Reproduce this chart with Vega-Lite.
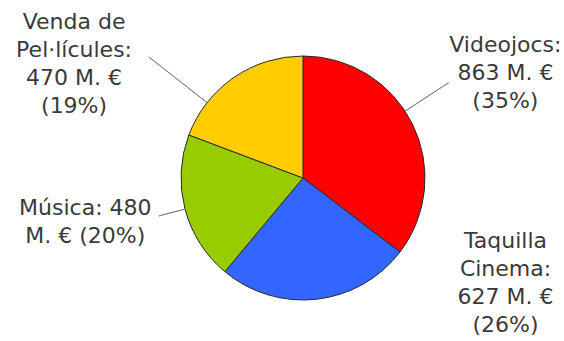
{
  "$schema": "https://vega.github.io/schema/vega-lite/v6.json",
  "autosize": {"type": "none"},
  "width": 522,
  "height": 326,
  "padding": {"left": 42, "top": 15, "right": 0, "bottom": 0},
  "background": "white",
  "data": {
    "values": [
      {"cat": "Videojocs", "value": 863, "idx": 1, "label": "Videojocs:\n863 M. €\n(35%)"},
      {"cat": "Taquilla Cinema", "value": 627, "idx": 2, "label": "Taquilla\nCinema:\n627 M. €\n(26%)"},
      {"cat": "Música", "value": 480, "idx": 3, "label": "Música: 480\nM. € (20%)"},
      {"cat": "Venda de Pel·lícules", "value": 470, "idx": 4, "label": "Venda de\nPel·lícules:\n470 M. €\n(19%)"}
    ]
  },
  "encoding": {
    "theta": {"field": "value", "type": "quantitative", "stack": true},
    "order": {"field": "idx", "type": "quantitative"}
  },
  "layer": [
    {
      "mark": {"type": "arc", "outerRadius": 122, "stroke": "#2a2a2a", "strokeWidth": 1},
      "encoding": {
        "color": {
          "field": "cat",
          "type": "nominal",
          "scale": {
            "domain": ["Videojocs", "Taquilla Cinema", "Música", "Venda de Pel·lícules"],
            "range": ["#FF0000", "#3366FF", "#99CC00", "#FFCC00"]
          },
          "legend": null
        }
      }
    },
    {
      "mark": {"type": "arc", "innerRadius": 122, "outerRadius": 174, "padAngle": 3.1, "thetaOffset": -0.12, "theta2Offset": -0.12, "filled": false, "stroke": "#888888", "strokeWidth": 1},
      "encoding": {
        "strokeOpacity": {"condition": {"test": "datum.cat === 'Videojocs'", "value": 1}, "value": 0}
      }
    },
    {
      "mark": {"type": "arc", "innerRadius": 122, "outerRadius": 149, "padAngle": 3.1, "filled": false, "stroke": "#888888", "strokeWidth": 1},
      "encoding": {
        "strokeOpacity": {"condition": {"test": "datum.cat === 'Música'", "value": 1}, "value": 0}
      }
    },
    {
      "mark": {"type": "arc", "innerRadius": 122, "outerRadius": 196, "padAngle": 3.1, "thetaOffset": -0.3, "theta2Offset": -0.3, "filled": false, "stroke": "#888888", "strokeWidth": 1},
      "encoding": {
        "strokeOpacity": {"condition": {"test": "datum.cat === 'Venda de Pel·lícules'", "value": 1}, "value": 0}
      }
    },
    {
      "mark": {"type": "text", "radius": 237, "dx": -10, "dy": -21, "align": "center", "baseline": "alphabetic", "lineBreak": "\n", "lineHeight": 28, "font": "DejaVu Sans", "fontSize": 22, "color": "#3a3a3a"},
      "encoding": {
        "text": {"condition": {"test": "datum.cat === 'Videojocs'", "field": "label"}, "value": ""}
      }
    },
    {
      "mark": {"type": "text", "radius": 130, "dx": 188, "dy": -59, "align": "center", "baseline": "alphabetic", "lineBreak": "\n", "lineHeight": 28, "font": "DejaVu Sans", "fontSize": 22, "color": "#3a3a3a"},
      "encoding": {
        "text": {"condition": {"test": "datum.cat === 'Taquilla Cinema'", "field": "label"}, "value": ""}
      }
    },
    {
      "mark": {"type": "text", "radius": 221, "dx": -4, "dy": -19, "align": "center", "baseline": "alphabetic", "lineBreak": "\n", "lineHeight": 28, "font": "DejaVu Sans", "fontSize": 22, "color": "#3a3a3a"},
      "encoding": {
        "text": {"condition": {"test": "datum.cat === 'Música'", "field": "label"}, "value": ""}
      }
    },
    {
      "mark": {"type": "text", "radius": 253, "dx": -85, "dy": 59, "align": "center", "baseline": "alphabetic", "lineBreak": "\n", "lineHeight": 28, "font": "DejaVu Sans", "fontSize": 22, "color": "#3a3a3a"},
      "encoding": {
        "text": {"condition": {"test": "datum.cat === 'Venda de Pel·lícules'", "field": "label"}, "value": ""}
      }
    }
  ],
  "config": {"view": {"stroke": null}}
}
